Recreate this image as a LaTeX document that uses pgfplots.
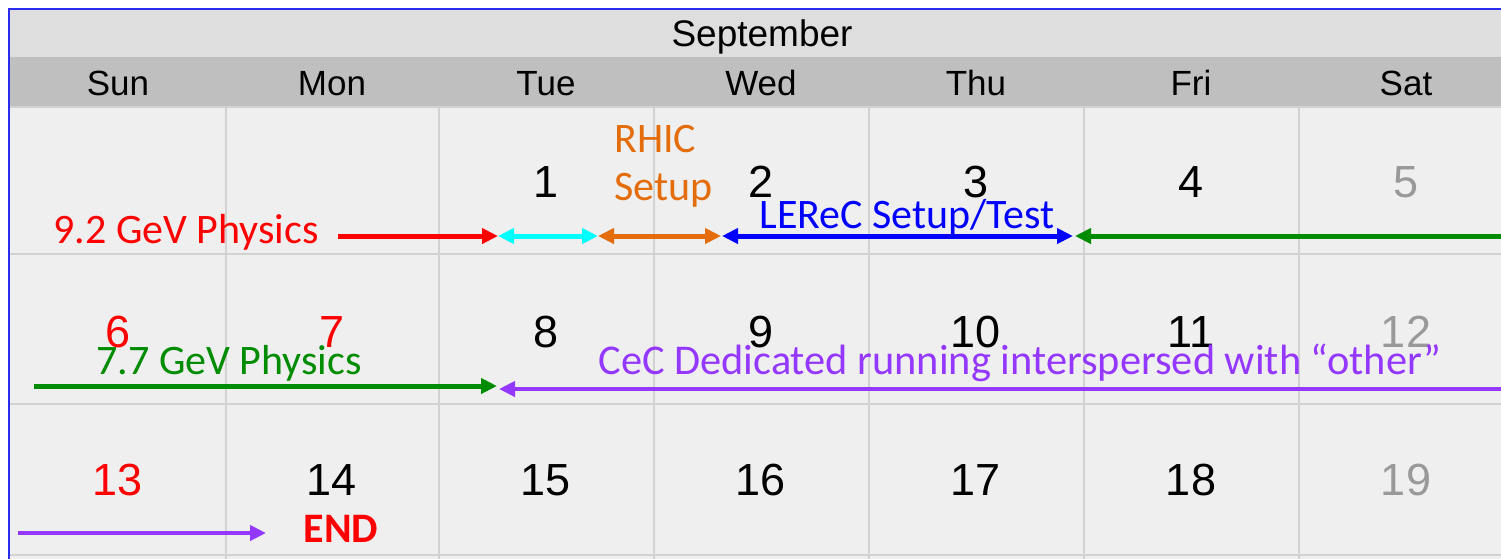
\documentclass[border=0pt]{standalone}
\usepackage{fontspec}
\setmainfont{Liberation Sans}
\newfontfamily\calfont{Carlito}
\usepackage{pgfplots}
\pgfplotsset{compat=1.18}
\usetikzlibrary{arrows.meta}
\definecolor{bandA}{HTML}{DEDEDE}
\definecolor{bandB}{HTML}{BFBFBF}
\definecolor{cellbg}{HTML}{EFEFEF}
\definecolor{gridc}{HTML}{D2D2D2}
\definecolor{cgreen}{HTML}{008C00}
\definecolor{corange}{HTML}{E46C0A}
\definecolor{cpurple}{HTML}{9437FF}
\definecolor{ccyan}{HTML}{00FFFF}
\definecolor{cblue}{HTML}{0000FF}
\definecolor{cred}{HTML}{FF0000}
\definecolor{cgray}{HTML}{999999}
\definecolor{cborder}{HTML}{2A2AF0}
\newcommand\dnum[4]{\node[anchor=base, text=#4, font=\fontsize{22.5}{24}\selectfont] at (axis cs:#1,#2) {#3};}
\newcommand\dhead[2]{\node[anchor=base, font=\fontsize{17.5}{20}\selectfont] at (axis cs:#1,95) {#2};}
\begin{document}
\begin{tikzpicture}
\begin{axis}[scale only axis, width=750.5pt, height=279.5pt,
  xmin=0, xmax=1501, ymin=0, ymax=559, y dir=reverse, hide axis, clip=true]
% backgrounds
\fill[white] (axis cs:0,0) rectangle (axis cs:1501,559);
\fill[cellbg] (axis cs:10,107) rectangle (axis cs:1501,559);
\fill[bandA] (axis cs:10,10) rectangle (axis cs:1501,57);
\fill[bandB] (axis cs:10,57) rectangle (axis cs:1501,107);
% grid
\foreach \xx in {226,439,654,869,1084,1299}{
  \edef\tmp{\noexpand\draw[gridc, line width=1pt] (axis cs:\xx,107) -- (axis cs:\xx,559);}\tmp}
\foreach \yy in {107,254,404,555}{
  \edef\tmp{\noexpand\draw[gridc, line width=1pt] (axis cs:10,\yy) -- (axis cs:1501,\yy);}\tmp}
\draw[cborder, line width=1pt] (axis cs:9,559) -- (axis cs:9,9) -- (axis cs:1501,9);
% headers
\node[anchor=base, font=\fontsize{18.5}{20}\selectfont] at (axis cs:762,46) {September};
\dhead{118}{Sun}\dhead{332}{Mon}\dhead{546}{Tue}\dhead{761}{Wed}\dhead{976}{Thu}\dhead{1191}{Fri}\dhead{1406}{Sat}
% day numbers
\dnum{546}{197}{1}{black}\dnum{761}{197}{2}{black}\dnum{976}{197}{3}{black}\dnum{1191}{197}{4}{black}\dnum{1406}{197}{5}{cgray}
\dnum{118}{347}{6}{cred}\dnum{332}{347}{7}{cred}\dnum{546}{347}{8}{black}\dnum{761}{347}{9}{black}\dnum{976}{347}{10}{black}\dnum{1191}{347}{11}{black}\dnum{1406}{347}{12}{cgray}
\dnum{118}{495}{13}{cred}\dnum{332}{495}{14}{black}\dnum{546}{495}{15}{black}\dnum{761}{495}{16}{black}\dnum{976}{495}{17}{black}\dnum{1191}{495}{18}{black}\dnum{1406}{495}{19}{cgray}
% arrows (periods)
\addplot[cred, line width=2.5pt, -{Triangle[length=8pt,width=7.5pt]}] coordinates {(338,236) (498,236)};
\addplot[ccyan, line width=2.5pt, {Triangle[length=8pt,width=7.5pt]}-{Triangle[length=8pt,width=7.5pt]}] coordinates {(498,236) (598,236)};
\addplot[corange, line width=2.5pt, {Triangle[length=8pt,width=7.5pt]}-{Triangle[length=8pt,width=7.5pt]}] coordinates {(598,236) (721,236)};
\addplot[cblue, line width=2.5pt, {Triangle[length=8pt,width=7.5pt]}-{Triangle[length=8pt,width=7.5pt]}] coordinates {(722,236) (1073,236)};
\addplot[cgreen, line width=2.5pt, {Triangle[length=8pt,width=7.5pt]}-] coordinates {(1075,236) (1515,236)};
\addplot[cgreen, line width=2.5pt, -{Triangle[length=8pt,width=7.5pt]}] coordinates {(34,386) (497,386)};
\addplot[cpurple, line width=2.3pt, {Triangle[length=8pt,width=7.5pt]}-] coordinates {(499,389) (1515,389)};
\addplot[cpurple, line width=2.3pt, -{Triangle[length=8pt,width=7.5pt]}] coordinates {(18,533) (266,533)};
% labels
\node[anchor=base west, text=cred, font=\calfont\fontsize{21}{24}\selectfont, inner sep=0pt] at (axis cs:53,243) {9.2 GeV Physics};
\node[anchor=base west, text=corange, font=\calfont\fontsize{21}{24}\selectfont, inner sep=0pt] at (axis cs:614,152) {RHIC};
\node[anchor=base west, text=corange, font=\calfont\fontsize{21}{24}\selectfont, inner sep=0pt] at (axis cs:614,200) {Setup};
\node[anchor=base west, text=cblue, font=\calfont\fontsize{21}{24}\selectfont, inner sep=0pt] at (axis cs:759,228) {LEReC Setup/Test};
\node[anchor=base west, text=cgreen, font=\calfont\fontsize{21}{24}\selectfont, inner sep=0pt] at (axis cs:96,374) {7.7 GeV Physics};
\node[anchor=base west, text=cpurple, font=\calfont\fontsize{21.2}{24}\selectfont, inner sep=0pt] at (axis cs:598,374) {CeC Dedicated running interspersed with “other”};
\node[anchor=base, text=cred, font=\calfont\bfseries\fontsize{21}{24}\selectfont, inner sep=0pt] at (axis cs:341,542) {END};
\end{axis}
\end{tikzpicture}
\end{document}
